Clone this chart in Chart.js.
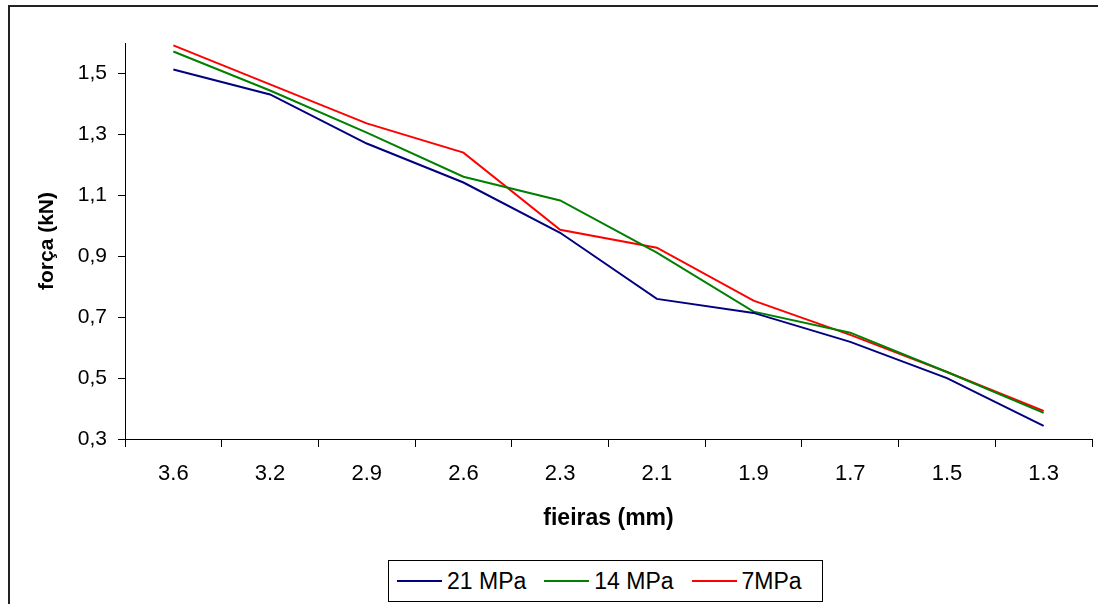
<!DOCTYPE html>
<html>
<head>
<meta charset="utf-8">
<script src="https://cdn.jsdelivr.net/npm/chart.js@4.4.1/dist/chart.umd.min.js"></script>
<style>
  html, body { margin: 0; padding: 0; background: #fff; }
  #wrap { position: relative; width: 1098px; height: 604px; overflow: hidden; }
  #frame { position: absolute; left: 8px; top: 5px; width: 1100px; height: 610px; border: 2px solid #222; box-sizing: border-box; }
  #chart { position: absolute; left: 0; top: 0; }
  #legend {
    position: absolute; left: 388px; top: 560px; width: 435px; height: 42px;
    border: 1px solid #000; box-sizing: border-box; background: #fff;
    display: flex; align-items: center; padding-left: 8px;
    font-family: "Liberation Sans", Arial, sans-serif; font-size: 23px; color: #000;
  }
  .item { display: flex; align-items: center; margin-right: 18px; }
  .swatch { width: 45px; height: 2px; margin-right: 5px; }
</style>
</head>
<body>
<div id="wrap">
  <div id="frame"></div>
  <canvas id="chart" width="1098" height="604"></canvas>
  <div id="legend"></div>
</div>
<script>
const categories = ["3.6", "3.2", "2.9", "2.6", "2.3", "2.1", "1.9", "1.7", "1.5", "1.3"];
const mpa21 = [1.513, 1.431, 1.270, 1.142, 0.977, 0.760, 0.714, 0.619, 0.500, 0.343];
const mpa14 = [1.572, 1.444, 1.306, 1.161, 1.083, 0.912, 0.718, 0.649, 0.520, 0.386];
const mpa7 = [1.592, 1.464, 1.336, 1.240, 0.987, 0.928, 0.754, 0.642, 0.520, 0.392];
const yTicks = [0.3, 0.5, 0.7, 0.9, 1.1, 1.3, 1.5];

const font = "'Liberation Sans', Arial, sans-serif";

const chart = new Chart(document.getElementById("chart"), {
  type: "line",
  data: {
    labels: categories,
    datasets: [
      { label: "21 MPa", data: mpa21, borderColor: "#000080" },
      { label: "14 MPa", data: mpa14, borderColor: "#008000" },
      { label: "7MPa", data: mpa7, borderColor: "#ff0000" },
    ],
  },
  options: {
    responsive: false,
    animation: false,
    devicePixelRatio: 1,
    elements: {
      line: { borderWidth: 2, tension: 0 },
      point: { radius: 0 },
    },
    layout: { padding: { left: 10, right: 6, top: 43, bottom: 70 } },
    plugins: { legend: { display: false }, tooltip: { enabled: false } },
    scales: {
      x: {
        offset: true,
        grid: { offset: true, drawOnChartArea: false, tickLength: 8, color: "#000", tickColor: "#000" },
        border: { color: "#000", width: 1 },
        ticks: { color: "#000", padding: 14, font: { family: font, size: 22 }, maxRotation: 0 },
        title: { display: true, text: "fieiras (mm)", color: "#000", font: { family: font, size: 23, weight: "bold" }, padding: { top: 0, bottom: 2 } },
        afterFit: (s) => { s.height = 95; },
      },
      y: {
        min: 0.3,
        max: 1.6,
        afterBuildTicks: (s) => { s.ticks = yTicks.map((v) => ({ value: v })); },
        grid: { drawOnChartArea: false, tickLength: 7, color: "#000", tickColor: "#000" },
        border: { color: "#000", width: 1 },
        ticks: {
          color: "#000", padding: 11, font: { family: font, size: 21 },
          callback: (v) => v.toFixed(1).replace(".", ","),
        },
        title: { display: true, text: "força (kN)", color: "#000", font: { family: font, size: 21, weight: "bold" }, padding: { top: 25, bottom: 0 } },
        afterFit: (s) => { s.width = 115; },
      },
    },
  },
});

// legend from the datasets
const legend = document.getElementById("legend");
chart.data.datasets.forEach((ds) => {
  const item = document.createElement("div");
  item.className = "item";
  item.innerHTML = '<span class="swatch" style="background:' + ds.borderColor + '"></span>' + ds.label;
  legend.appendChild(item);
});
</script>
</body>
</html>
